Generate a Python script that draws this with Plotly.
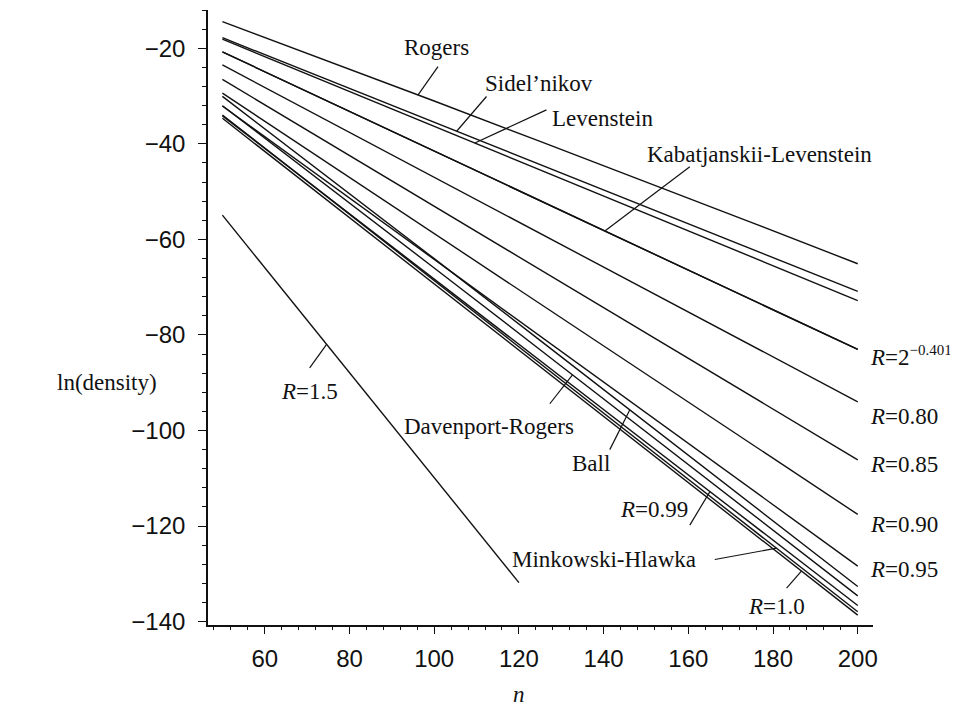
import numpy as np
import plotly.graph_objects as go

# dimension n
N = [50, 75, 100, 125, 150, 175, 200]
N_R15 = [50, 75, 100, 120]

# ln(density) values
rogers      = [-14.42, -22.68, -31.05, -39.49, -47.97, -56.49, -65.10]
sidelnikov  = [-17.80, -26.65, -35.50, -44.35, -53.20, -62.05, -70.90]
levenstein  = [-18.10, -27.22, -36.33, -45.45, -54.57, -63.68, -72.80]
kab_lev     = [-20.76, -31.14, -41.52, -51.90, -62.28, -72.66, -83.04]
r_2m0401    = [-20.76, -31.14, -41.52, -51.90, -62.28, -72.66, -83.04]
r_080       = [-23.50, -35.25, -47.00, -58.75, -70.50, -82.25, -94.00]
r_085       = [-26.53, -39.80, -53.06, -66.33, -79.59, -92.86, -106.13]
r_090       = [-29.39, -44.08, -58.78, -73.47, -88.17, -102.86, -117.56]
r_095       = [-32.09, -48.14, -64.19, -80.23, -96.28, -112.32, -128.37]
ball        = [-30.07, -46.99, -64.03, -81.13, -98.27, -115.45, -132.64]
davenport   = [-32.03, -48.95, -65.98, -83.09, -100.23, -117.41, -134.60]
r_099       = [-34.15, -51.23, -68.31, -85.39, -102.46, -119.54, -136.62]
minkowski   = [-33.96, -51.29, -68.62, -85.95, -103.28, -120.61, -137.94]
r_100       = [-34.66, -51.99, -69.31, -86.64, -103.97, -121.30, -138.63]
r_150       = [-54.93, -82.40, -109.86, -131.83]

series = [
    ("Rogers", N, rogers), ("Sidel'nikov", N, sidelnikov), ("Levenstein", N, levenstein),
    ("Kabatjanskii-Levenstein", N, kab_lev), ("R=2^-0.401", N, r_2m0401),
    ("R=0.80", N, r_080), ("R=0.85", N, r_085), ("R=0.90", N, r_090), ("R=0.95", N, r_095),
    ("Ball", N, ball), ("Davenport-Rogers", N, davenport), ("R=0.99", N, r_099),
    ("Minkowski-Hlawka", N, minkowski), ("R=1.0", N, r_100), ("R=1.5", N_R15, r_150),
]

fig = go.Figure()
for name, xs, ys in series:
    fig.add_trace(go.Scatter(x=xs, y=ys, mode="lines", name=name,
                             line=dict(color="#111111", width=1.4), hoverinfo="skip"))

SERIF = "Liberation Serif, Times New Roman, serif"
SANS = "Liberation Sans, Arial, sans-serif"
FS = 23

# (text, text_x, text_y, xanchor, pointer_tail_x, pointer_tail_y, tip_n, tip_series_xs, tip_series_ys)
labels = [
    ("Rogers", 100.6, -19.9, "center", 100.9, -23.85, 96.2, N, rogers),
    ("Sidel\u2019nikov", 124.7, -27.3, "center", 112.35, -30.1, 105.3, N, sidelnikov),
    ("Levenstein", 139.8, -34.6, "center", 126.5, -32.9, 109.6, N, levenstein),
    ("Kabatjanskii-Levenstein", 176.9, -42.3, "center", 160.35, -44.8, 140.3, N, kab_lev),
    ("Ball", 137.0, -106.8, "center", 141.46, -104.0, 146.2, N, ball),
    ("Davenport-Rogers", 112.9, -99.2, "center", 127.3, -94.4, 132.65, N, davenport),
    ("<i>R</i>=0.99", 160.4, -116.6, "right", 160.35, -119.8, 165.1, N, r_099),
    ("Minkowski-Hlawka", 140.2, -127.0, "center", 166.25, -127.0, 180.8, N, minkowski),
    ("<i>R</i>=1.0", 180.9, -136.8, "center", 183.2, -132.97, 186.7, N, r_100),
    ("<i>R</i>=1.5", 70.6, -91.8, "center", 70.6, -86.9, 74.6, N_R15, r_150),
]

annotations = []
shapes = []
for text, tx, ty, xa, px, py, tn, sx, sy in labels:
    annotations.append(dict(x=tx, y=ty, xref="x", yref="y", text=text, showarrow=False,
                            xanchor=xa, yanchor="middle", font=dict(family=SERIF, size=FS, color="#111")))
    tip_y = float(np.interp(tn, sx, sy))
    shapes.append(dict(type="line", xref="x", yref="y", x0=px, y0=py, x1=tn, y1=tip_y,
                       line=dict(color="#111111", width=1.2)))

right_labels = [
    ("<i>R</i>=2<sup><span style=\"font-size:15px\">\u22120.401</span></sup>", -84.5),
    ("<i>R</i>=0.80", -97.1),
    ("<i>R</i>=0.85", -107.2),
    ("<i>R</i>=0.90", -119.7),
    ("<i>R</i>=0.95", -129.1),
]
for text, ty in right_labels:
    annotations.append(dict(x=202.4, y=ty, xref="x", yref="y", text=text, showarrow=False,
                            xanchor="left", yanchor="middle", font=dict(family=SERIF, size=FS, color="#111")))

# axis titles (paper coordinates, outside the plotting area)
annotations.append(dict(x=-0.152, y=0.3935, xref="paper", yref="paper", text="ln(density)", showarrow=False,
                        xanchor="center", yanchor="middle", font=dict(family=SERIF, size=FS, color="#111")))
annotations.append(dict(x=0.4677, y=-0.1138, xref="paper", yref="paper", text="<i>n</i>", showarrow=False,
                        xanchor="center", yanchor="middle", font=dict(family=SERIF, size=FS, color="#111")))

fig.update_layout(
    width=950, height=705,
    margin=dict(l=200, r=85, t=2, b=88),
    showlegend=False,
    plot_bgcolor="white", paper_bgcolor="white",
    annotations=annotations, shapes=shapes,
)
fig.update_xaxes(range=[46.6, 203.6], tick0=0, dtick=20, showgrid=False, zeroline=False,
                 showline=True, linecolor="#111", linewidth=1.6,
                 ticks="outside", ticklen=7, tickwidth=1.3, tickcolor="#111",
                 tickfont=dict(family=SANS, size=24, color="#111"), ticklabelstandoff=4,
                 minor=dict(dtick=4, tick0=0, ticks="outside", ticklen=3, tickcolor="#111", tickwidth=1, showgrid=False))
fig.update_yaxes(range=[-140.7, -12], tick0=0, dtick=20, showgrid=False, zeroline=False,
                 showline=True, linecolor="#111", linewidth=1.6,
                 ticks="outside", ticklen=8, tickwidth=1.3, tickcolor="#111",
                 tickfont=dict(family=SANS, size=24, color="#111"), ticklabelstandoff=8,
                 minor=dict(dtick=4, tick0=0, ticks="outside", ticklen=4, tickcolor="#111", tickwidth=1, showgrid=False))

fig.write_html("out.html")
